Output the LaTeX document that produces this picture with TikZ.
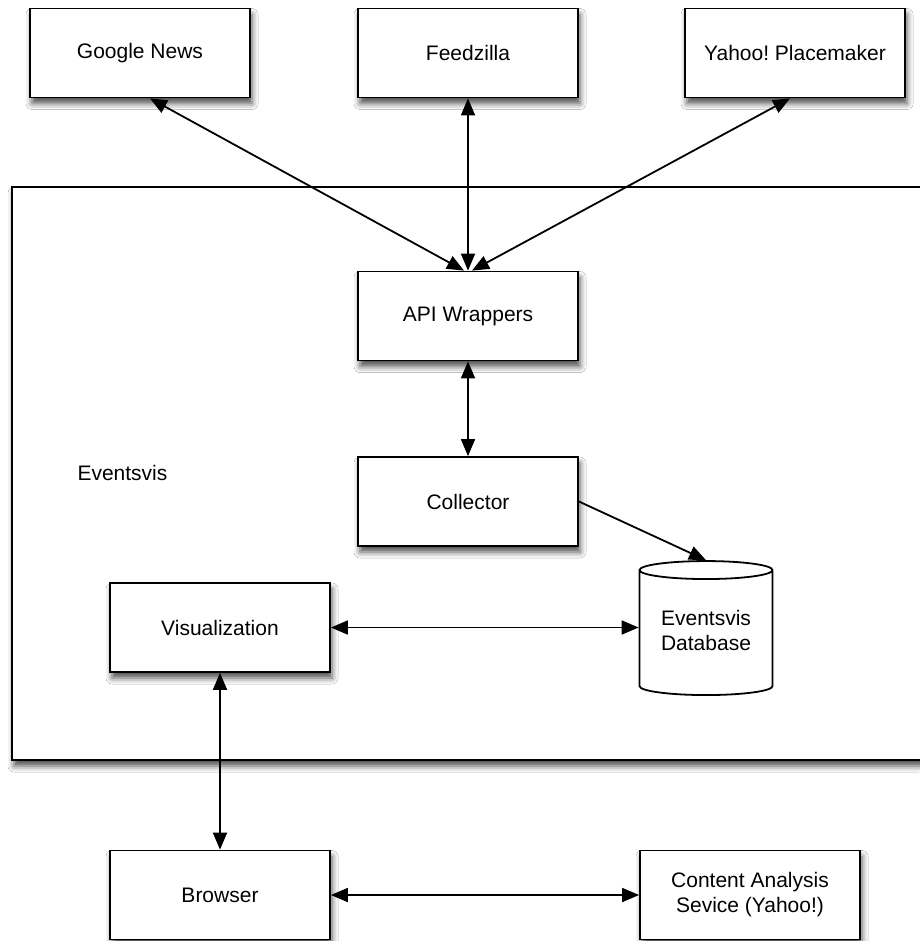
\documentclass[tikz,border=0pt]{standalone}
\usepackage{fontspec}
\setmainfont{Liberation Sans}
\usepackage{tikz}
\usetikzlibrary{arrows.meta,shapes.geometric,shadows.blur}
\frenchspacing
\tikzset{
    soft-shadow/.style = {blur shadow={shadow xshift=2pt, shadow yshift=-6pt, shadow blur radius=6pt, shadow opacity=70}},
    plain-box/.style = {draw=black, fill=white, line width=1.8pt, rectangle, minimum width=220pt, minimum height=89pt, inner sep=2pt, align=center, soft-shadow},
    db-cyl/.style = {draw=black, fill=white, line width=1.8pt, cylinder, shape border rotate=90, aspect=0.2, minimum width=133pt, minimum height=134pt, inner sep=0pt, align=center},
    link/.style = {line width=1.8pt, arrows={Triangle[length=17pt, width=14pt]-Triangle[length=17pt, width=14pt]}},
    one-way/.style = {line width=1.8pt, arrows={-Triangle[length=17pt, width=14pt]}},
}

\begin{document}
\begin{tikzpicture}[x=1pt, y=-1pt, font=\fontsize{21}{25}\selectfont]
\useasboundingbox[fill=white] (0,0) rectangle (919,941);
% the Eventsvis system
\node [plain-box, minimum width=930pt, minimum height=573pt] (eventsvis) at (477,473.5) {};
\node [anchor=west] (eventsvis-title) at (74,473) {Eventsvis};
% outside services
\node [plain-box] (gnews) at (140,53) {Google News};
\node [plain-box] (feedzilla) at (468,53) {Feedzilla};
\node [plain-box] (yahoo) at (795,53) {Yahoo! Placemaker};
% inside the system
\node [plain-box] (api) at (468,316) {API Wrappers};
\node [plain-box] (collector) at (468,501.5) {Collector};
\node [plain-box] (vis) at (220,627.5) {Visualization};
\node [db-cyl] (db) at (706,633) {\raisebox{-8pt}{\begin{tabular}{@{}c@{}}Eventsvis\\Database\end{tabular}}};
% clients
\node [plain-box] (browser) at (220,895) {Browser};
\node [plain-box] (content) at (750,895) {Content Analysis\\Sevice (Yahoo!)};

\draw [link] ([xshift=10pt]gnews.south) -- ([xshift=-4pt]api.north);
\draw [link] (feedzilla.south) -- (api.north);
\draw [link] ([xshift=-5pt]yahoo.south) -- ([xshift=4pt]api.north);
\draw [link] (api.south) -- (collector.north);
\draw [one-way] (collector.east) -- (db.north);
\draw [link] (vis.east) -- (vis.east -| db.west);
\draw [link] (vis.south) -- (browser.north);
\draw [link] (browser.east) -- (content.west);
\end{tikzpicture}
\end{document}
